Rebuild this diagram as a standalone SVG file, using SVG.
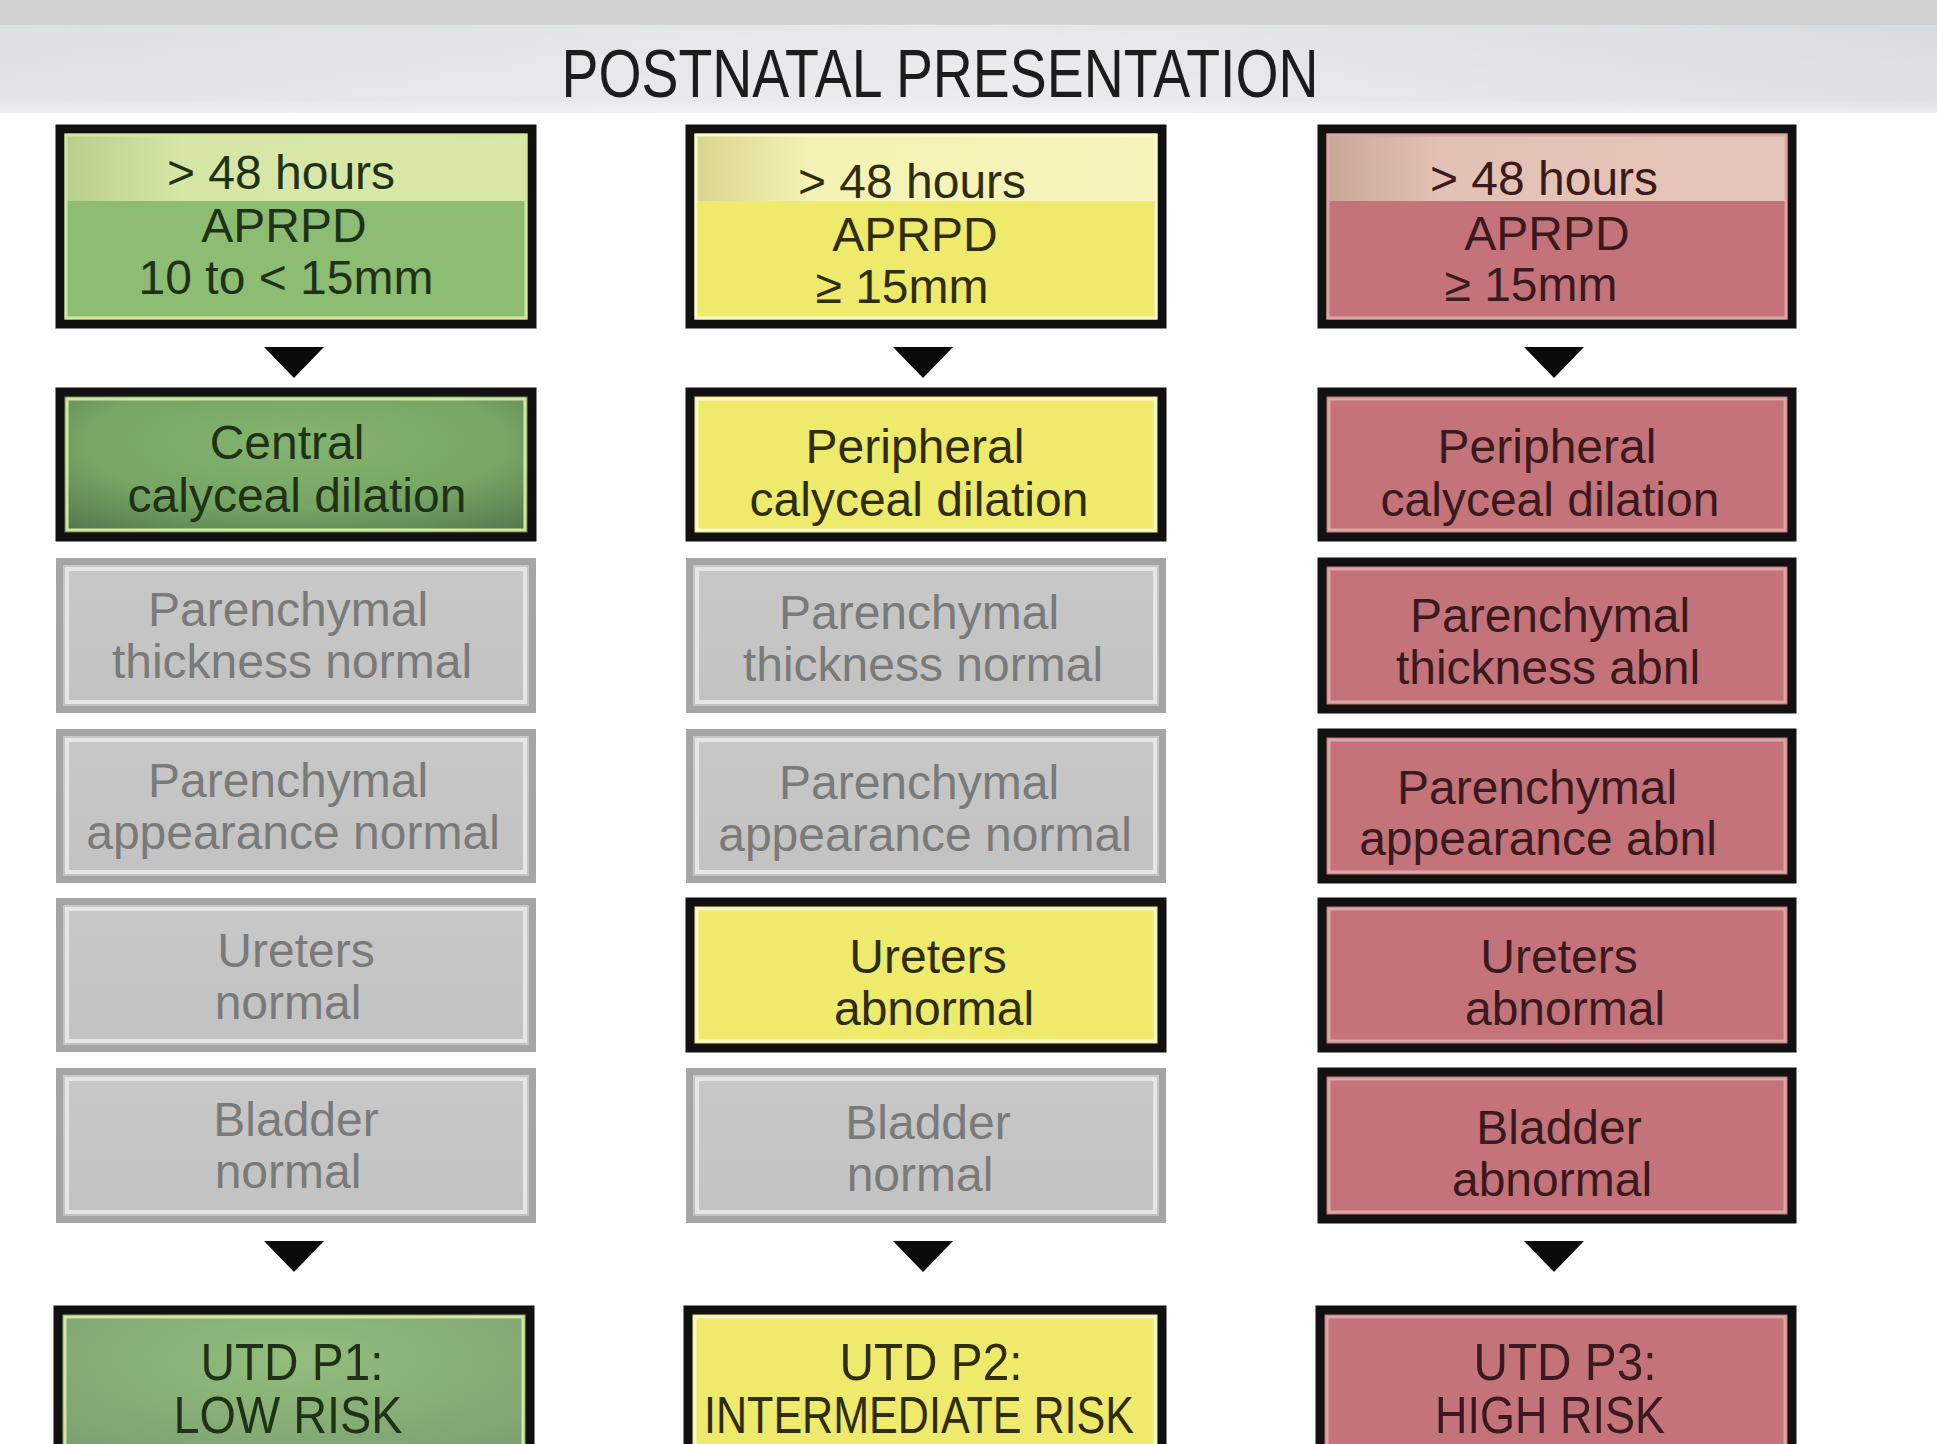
<svg xmlns="http://www.w3.org/2000/svg" width="1937" height="1444" viewBox="0 0 1937 1444">
<defs>
<linearGradient id="hdr" x1="0" y1="0" x2="1" y2="0">
<stop offset="0" stop-color="#dde0e1"/><stop offset="0.5" stop-color="#e7e9ea"/><stop offset="1" stop-color="#d9dcde"/>
</linearGradient>
<linearGradient id="hdrv" x1="0" y1="0" x2="0" y2="1">
<stop offset="0" stop-color="#ffffff" stop-opacity="0"/><stop offset="0.85" stop-color="#ffffff" stop-opacity="0.15"/><stop offset="1" stop-color="#ffffff" stop-opacity="0.5"/>
</linearGradient>
<radialGradient id="gdark" cx="0.5" cy="0.35" r="0.75">
<stop offset="0" stop-color="#84b56f"/><stop offset="0.6" stop-color="#76a564"/><stop offset="1" stop-color="#587a4f"/>
</radialGradient>
<radialGradient id="glow" cx="0.5" cy="0.3" r="0.8">
<stop offset="0" stop-color="#92be7c"/><stop offset="1" stop-color="#7a9e70"/>
</radialGradient>
<linearGradient id="gtop" x1="0" y1="0" x2="1" y2="0">
<stop offset="0" stop-color="#b9cf8c"/><stop offset="0.25" stop-color="#d6e6a4"/><stop offset="1" stop-color="#d8e8a6"/>
</linearGradient>
<linearGradient id="ytop" x1="0" y1="0" x2="1" y2="0">
<stop offset="0" stop-color="#d8d68e"/><stop offset="0.25" stop-color="#f4f2b4"/><stop offset="1" stop-color="#f6f4ba"/>
</linearGradient>
<linearGradient id="rtop" x1="0" y1="0" x2="1" y2="0">
<stop offset="0" stop-color="#c9a896"/><stop offset="0.25" stop-color="#e3c2b6"/><stop offset="1" stop-color="#e5c5b9"/>
</linearGradient>
<linearGradient id="grey" x1="0" y1="0" x2="0" y2="1">
<stop offset="0" stop-color="#c8c8c8"/><stop offset="1" stop-color="#c2c2c2"/>
</linearGradient>
<path id="tri" d="M-30,0 L30,0 L0,31 Z"/>
</defs>
<style>
text{font-family:"Liberation Sans",Arial,sans-serif;font-size:48px;text-anchor:middle}
.title{font-size:68px;fill:#1c1c1c}
.ob{stroke:#111;stroke-width:9}
.og{stroke:#a5a5a5;stroke-width:7}
.hlg{fill:none;stroke:#d4e6a0;stroke-width:3}
.hly{fill:none;stroke:#fbf9cc;stroke-width:3}
.hlr{fill:none;stroke:#dca6a8;stroke-width:3}
.hlq{fill:none;stroke:#e6e6e6;stroke-width:4}
.tg{fill:#1f3218}
.ty{fill:#2f2d0e}
.tr{fill:#3a1a1c}
.tq{fill:#7a7a7a}
.u{font-size:52px}
</style>
<rect x="0" y="0" width="1937" height="1444" fill="#ffffff"/>
<g id="header">
<rect x="0" y="0" width="1937" height="25" fill="#d1d1d1"/>
<rect x="0" y="25" width="1937" height="88" fill="url(#hdr)"/>
<rect x="0" y="25" width="1937" height="88" fill="url(#hdrv)"/>
<text class="title" x="940" y="97" textLength="757" lengthAdjust="spacingAndGlyphs">POSTNATAL PRESENTATION</text>
</g>

<g id="connectors" fill="#0a0a0a">
<use href="#tri" x="294" y="347"/>
<use href="#tri" x="923" y="347"/>
<use href="#tri" x="1554" y="347"/>
<use href="#tri" x="294" y="1241"/>
<use href="#tri" x="923" y="1241"/>
<use href="#tri" x="1554" y="1241"/>
</g>

<!-- Column 1 -->
<g id="c1r1">
<rect class="ob" x="60" y="129" width="472" height="195" fill="#8cbd72"/>
<rect x="66" y="135" width="460" height="66" fill="url(#gtop)"/>
<rect class="hlg" x="66" y="135" width="460" height="183"/>
<text class="tg" x="281" y="189">&gt; 48 hours</text>
<text class="tg" x="284" y="242">APRPD</text>
<text class="tg" x="286" y="294">10 to &lt; 15mm</text>
</g>
<g id="c1r2">
<rect class="ob" x="60" y="392" width="472" height="145" fill="url(#gdark)"/>
<rect class="hlg" x="67" y="399" width="458" height="131"/>
<text class="tg" x="287" y="459">Central</text>
<text class="tg" x="297" y="512">calyceal dilation</text>
</g>
<g id="c1r3">
<rect class="og" x="59.5" y="561.5" width="473" height="148" fill="url(#grey)"/>
<rect class="hlq" x="67" y="569" width="458" height="133"/>
<text class="tq" x="288" y="626">Parenchymal</text>
<text class="tq" x="292" y="678">thickness normal</text>
</g>
<g id="c1r4">
<rect class="og" x="59.5" y="732.5" width="473" height="147" fill="url(#grey)"/>
<rect class="hlq" x="67" y="740" width="458" height="132"/>
<text class="tq" x="288" y="797">Parenchymal</text>
<text class="tq" x="293" y="849">appearance normal</text>
</g>
<g id="c1r5">
<rect class="og" x="59.5" y="901.5" width="473" height="147" fill="url(#grey)"/>
<rect class="hlq" x="67" y="909" width="458" height="132"/>
<text class="tq" x="296" y="967">Ureters</text>
<text class="tq" x="288" y="1019">normal</text>
</g>
<g id="c1r6">
<rect class="og" x="59.5" y="1071.5" width="473" height="148" fill="url(#grey)"/>
<rect class="hlq" x="67" y="1079" width="458" height="133"/>
<text class="tq" x="296" y="1136">Bladder</text>
<text class="tq" x="288" y="1188">normal</text>
</g>
<g id="c1r7">
<rect class="ob" x="58" y="1310" width="472" height="160" fill="url(#glow)"/>
<rect class="hlg" x="65" y="1317" width="458" height="150"/>
<text class="tg u" x="292" y="1380" textLength="183" lengthAdjust="spacingAndGlyphs">UTD P1:</text>
<text class="tg u" x="288" y="1433" textLength="229" lengthAdjust="spacingAndGlyphs">LOW RISK</text>
</g>

<!-- Column 2 -->
<g id="c2r1">
<rect class="ob" x="690" y="129" width="472" height="195" fill="#eeea6b"/>
<rect x="696" y="135" width="460" height="66" fill="url(#ytop)"/>
<rect class="hly" x="696" y="135" width="460" height="183"/>
<text class="ty" x="912" y="198">&gt; 48 hours</text>
<text class="ty" x="915" y="251">APRPD</text>
<text class="ty" x="902" y="303">≥ 15mm</text>
</g>
<g id="c2r2">
<rect class="ob" x="690" y="392" width="472" height="145" fill="#eeea6b"/>
<rect class="hly" x="697" y="399" width="458" height="131"/>
<text class="ty" x="915" y="463">Peripheral</text>
<text class="ty" x="919" y="516">calyceal dilation</text>
</g>
<g id="c2r3">
<rect class="og" x="689.5" y="561.5" width="473" height="148" fill="url(#grey)"/>
<rect class="hlq" x="697" y="569" width="458" height="133"/>
<text class="tq" x="919" y="629">Parenchymal</text>
<text class="tq" x="923" y="681">thickness normal</text>
</g>
<g id="c2r4">
<rect class="og" x="689.5" y="732.5" width="473" height="147" fill="url(#grey)"/>
<rect class="hlq" x="697" y="740" width="458" height="132"/>
<text class="tq" x="919" y="799">Parenchymal</text>
<text class="tq" x="925" y="851">appearance normal</text>
</g>
<g id="c2r5">
<rect class="ob" x="690" y="902" width="472" height="146" fill="#eeea6b"/>
<rect class="hly" x="697" y="909" width="458" height="132"/>
<text class="ty" x="928" y="973">Ureters</text>
<text class="ty" x="934" y="1025">abnormal</text>
</g>
<g id="c2r6">
<rect class="og" x="689.5" y="1071.5" width="473" height="148" fill="url(#grey)"/>
<rect class="hlq" x="697" y="1079" width="458" height="133"/>
<text class="tq" x="928" y="1139">Bladder</text>
<text class="tq" x="920" y="1191">normal</text>
</g>
<g id="c2r7">
<rect class="ob" x="688" y="1310" width="474" height="160" fill="#eeea6b"/>
<rect class="hly" x="695" y="1317" width="460" height="150"/>
<text class="ty u" x="931" y="1380" textLength="183" lengthAdjust="spacingAndGlyphs">UTD P2:</text>
<text class="ty u" x="919" y="1433" textLength="430" lengthAdjust="spacingAndGlyphs">INTERMEDIATE RISK</text>
</g>

<!-- Column 3 -->
<g id="c3r1">
<rect class="ob" x="1322" y="129" width="470" height="195" fill="#c4737b"/>
<rect x="1328" y="135" width="458" height="66" fill="url(#rtop)"/>
<rect class="hlr" x="1328" y="135" width="458" height="183"/>
<text class="tr" x="1544" y="195">&gt; 48 hours</text>
<text class="tr" x="1547" y="250">APRPD</text>
<text class="tr" x="1531" y="301">≥ 15mm</text>
</g>
<g id="c3r2">
<rect class="ob" x="1322" y="392" width="470" height="145" fill="#c4737b"/>
<rect class="hlr" x="1329" y="399" width="456" height="131"/>
<text class="tr" x="1547" y="463">Peripheral</text>
<text class="tr" x="1550" y="516">calyceal dilation</text>
</g>
<g id="c3r3">
<rect class="ob" x="1322" y="562" width="470" height="147" fill="#c4737b"/>
<rect class="hlr" x="1329" y="569" width="456" height="133"/>
<text class="tr" x="1550" y="632">Parenchymal</text>
<text class="tr" x="1548" y="684">thickness abnl</text>
</g>
<g id="c3r4">
<rect class="ob" x="1322" y="733" width="470" height="146" fill="#c4737b"/>
<rect class="hlr" x="1329" y="740" width="456" height="132"/>
<text class="tr" x="1537" y="804">Parenchymal</text>
<text class="tr" x="1538" y="855">appearance abnl</text>
</g>
<g id="c3r5">
<rect class="ob" x="1322" y="902" width="470" height="146" fill="#c4737b"/>
<rect class="hlr" x="1329" y="909" width="456" height="132"/>
<text class="tr" x="1559" y="973">Ureters</text>
<text class="tr" x="1565" y="1025">abnormal</text>
</g>
<g id="c3r6">
<rect class="ob" x="1322" y="1072" width="470" height="147" fill="#c4737b"/>
<rect class="hlr" x="1329" y="1079" width="456" height="133"/>
<text class="tr" x="1559" y="1144">Bladder</text>
<text class="tr" x="1552" y="1196">abnormal</text>
</g>
<g id="c3r7">
<rect class="ob" x="1320" y="1310" width="472" height="160" fill="#c4737b"/>
<rect class="hlr" x="1327" y="1317" width="458" height="150"/>
<text class="tr u" x="1565" y="1380" textLength="183" lengthAdjust="spacingAndGlyphs">UTD P3:</text>
<text class="tr u" x="1550" y="1433" textLength="230" lengthAdjust="spacingAndGlyphs">HIGH RISK</text>
</g>
</svg>
